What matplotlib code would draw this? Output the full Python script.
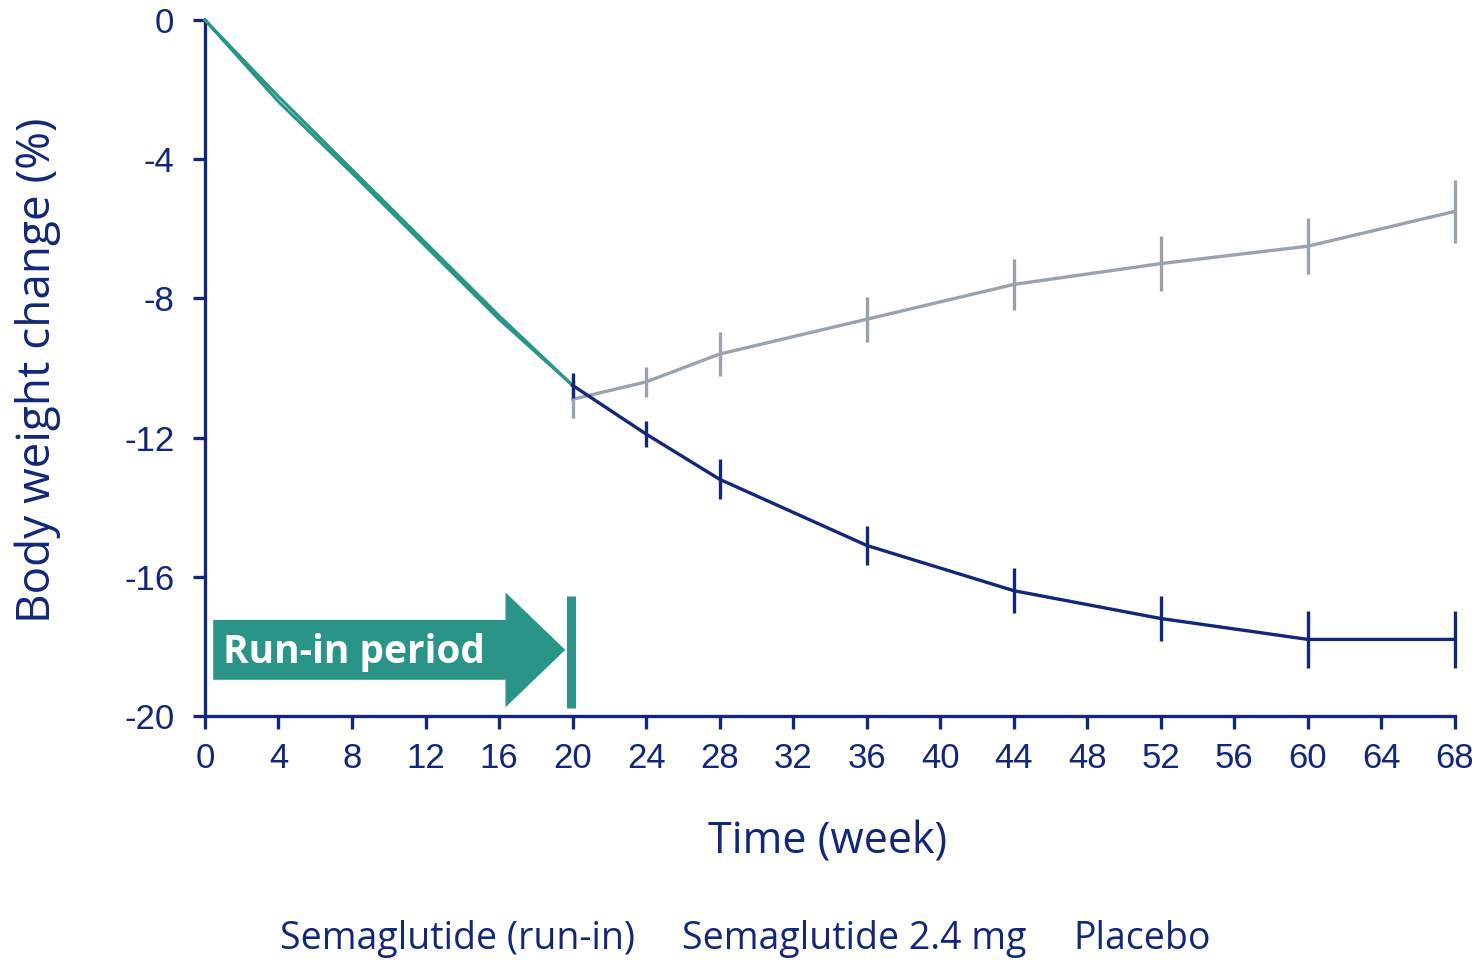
import matplotlib
matplotlib.use("Agg")
import matplotlib.pyplot as plt
from matplotlib.patches import FancyArrow
from matplotlib.lines import Line2D

# run-in period (both groups on semaglutide)
runin_weeks = [0, 4, 8, 12, 16, 20]
runin_sema = [0, -2.35, -4.4, -6.5, -8.6, -10.5]
runin_placebo = [0, -2.2, -4.3, -6.4, -8.5, -10.5]

# randomised period
weeks = [20, 24, 28, 36, 44, 52, 60, 68]
sema = [-10.5, -11.9, -13.2, -15.1, -16.4, -17.2, -17.8, -17.8]
sema_err = [0.35, 0.38, 0.57, 0.57, 0.65, 0.66, 0.81, 0.81]
placebo = [-10.9, -10.4, -9.6, -8.6, -7.6, -7.0, -6.5, -5.5]
placebo_err = [0.55, 0.43, 0.62, 0.65, 0.72, 0.8, 0.8, 0.9]

x_ticks = list(range(0, 69, 4))
y_ticks = [0, -4, -8, -12, -16, -20]
legend_labels = ["Semaglutide (run-in)", "Semaglutide 2.4 mg", "Placebo"]

NAVY = "#12267a"
TEAL = "#2a9488"
GREY = "#9aa2ae"


def main():
    fig = plt.figure(figsize=(14.83, 9.6), dpi=100)
    ax = fig.add_axes([0.1382, 0.2542, 0.8429, 0.725])

    ax.plot(runin_weeks, runin_placebo, color=TEAL, lw=2.2, clip_on=False, zorder=3)
    ax.plot(runin_weeks, runin_sema, color=TEAL, lw=2.2, clip_on=False, zorder=3)

    ax.errorbar(weeks, placebo, yerr=placebo_err, color=GREY, lw=2.4,
                elinewidth=2.4, capsize=0, clip_on=False, zorder=2)
    ax.errorbar(weeks, sema, yerr=sema_err, color=NAVY, lw=2.4,
                elinewidth=2.4, capsize=0, clip_on=False, zorder=4)

    # run-in arrow and end marker
    ax.add_patch(FancyArrow(0.45, -18.1, 19.15, 0, width=1.72, head_width=3.3,
                            head_length=3.25, length_includes_head=True,
                            color=TEAL, lw=0, zorder=3))
    ax.vlines(19.9, -19.78, -16.55, color=TEAL, lw=6.5, zorder=3)
    ax.text(1.0, -18.48, "Run-in period", color="white", fontsize=28,
            fontweight="bold", family="Open Sans", va="baseline", ha="left",
            zorder=5)

    ax.set_xlim(0, 68)
    ax.set_ylim(-20, 0)
    ax.set_xticks(x_ticks)
    ax.set_yticks(y_ticks)
    ax.set_xticklabels([str(t) for t in x_ticks], family="Liberation Sans")
    ax.set_yticklabels([str(t) for t in y_ticks], family="Liberation Sans")
    ax.tick_params(colors=NAVY, labelsize=25, width=2.4, length=9)
    ax.tick_params(axis="x", pad=9.5)
    ax.tick_params(axis="y", pad=13)

    for side in ["top", "right"]:
        ax.spines[side].set_visible(False)
    for side in ["left", "bottom"]:
        ax.spines[side].set_color(NAVY)
        ax.spines[side].set_linewidth(2.4)

    ax.set_xlabel("Time (week)", fontsize=31, color=NAVY, family="Open Sans",
                  va="center")
    ax.set_ylabel("Body weight change (%)", fontsize=33, color=NAVY,
                  family="Open Sans", va="center")
    ax.xaxis.set_label_coords(0.498, -0.181)
    ax.yaxis.set_label_coords(-0.1336, 0.497)

    handles = [Line2D([], [], color=c) for c in (TEAL, NAVY, GREY)]
    leg = fig.legend(handles, legend_labels, loc="center", ncol=3,
                     bbox_to_anchor=(0.5025, 0.022), frameon=False,
                     handlelength=0, handletextpad=0, columnspacing=1.25,
                     prop={"family": "Open Sans", "size": 27})
    for t in leg.get_texts():
        t.set_color(NAVY)

    fig.savefig("out.png", dpi=100)


if __name__ == "__main__":
    main()
